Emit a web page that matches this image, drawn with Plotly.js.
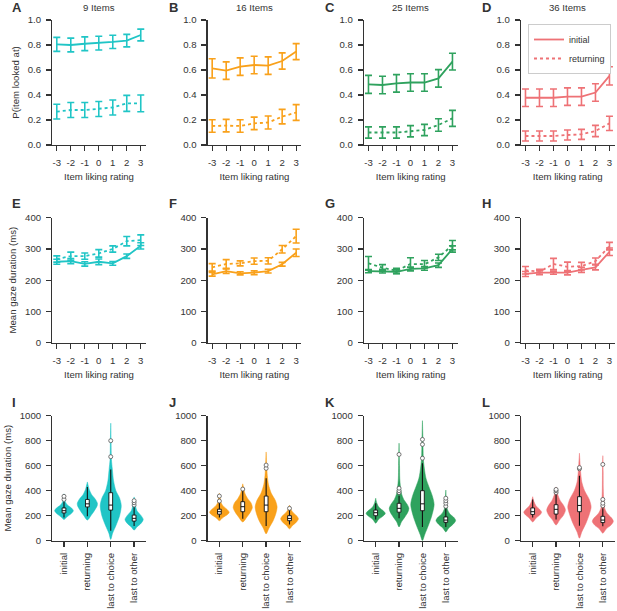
<!DOCTYPE html>
<html><head><meta charset="utf-8">
<script src="https://cdn.plot.ly/plotly-3.0.1.min.js"></script>
<style>html,body{margin:0;padding:0;background:#fff}#chart{width:617px;height:611px}</style>
</head><body><div id="chart"></div>
<script>
// ---------- data ----------
const ratings = [-3,-2,-1,0,1,2,3];
const setSizes = ['9 Items','16 Items','25 Items','36 Items'];
const panelLetters = ['A','B','C','D','E','F','G','H','I','J','K','L'];
const seriesNames = ['initial','returning'];
const categories = ['initial','returning','last to choice','last to other'];
const colors = ['#20c5c6','#f9a11b','#2fa25e','#ee7276'];

// Row 1: P(item looked at)
const pInitial = [
  [0.805,0.800,0.810,0.815,0.825,0.835,0.880],
  [0.613,0.595,0.627,0.640,0.635,0.672,0.747],
  [0.485,0.480,0.493,0.500,0.500,0.533,0.667],
  [0.378,0.378,0.378,0.387,0.387,0.420,0.553]];
const pInitialErr = [
  [0.056,0.055,0.055,0.055,0.053,0.050,0.047],
  [0.077,0.070,0.070,0.070,0.070,0.065,0.064],
  [0.072,0.070,0.070,0.070,0.070,0.070,0.067],
  [0.070,0.070,0.070,0.070,0.070,0.070,0.073]];
const pReturning = [
  [0.267,0.280,0.280,0.288,0.300,0.333,0.333],
  [0.152,0.155,0.152,0.173,0.180,0.227,0.260],
  [0.100,0.100,0.100,0.110,0.120,0.160,0.213],
  [0.072,0.072,0.072,0.080,0.085,0.112,0.173]];
const pReturningErr = [
  [0.059,0.060,0.060,0.060,0.060,0.064,0.067],
  [0.050,0.050,0.050,0.050,0.052,0.058,0.063],
  [0.045,0.045,0.045,0.045,0.045,0.050,0.064],
  [0.040,0.040,0.040,0.040,0.040,0.045,0.057]];

// Row 2: mean gaze duration (ms)
const gInitial = [
  [259,261,252,259,254,277,310],
  [219,229,222,224,229,251,288],
  [229,229,227,236,238,248,300],
  [220,224,224,224,233,241,291]];
const gInitialErr = [
  [8,8,7,9,6,7,10],
  [6,7,5,6,6,6,12],
  [5,6,6,6,6,7,10],
  [8,6,5,7,8,8,12]];
const gReturning = [
  [268,277,277,286,300,325,328],
  [241,252,254,261,262,299,341],
  [254,240,230,252,251,273,312],
  [232,227,252,243,245,261,309]];
const gReturningErr = [
  [10,13,10,12,10,15,17],
  [12,14,8,10,10,12,22],
  [22,10,8,20,12,10,15],
  [12,8,18,15,12,10,12]];

// Row 3: violin density profiles [value, half-width] per category, per panel
const violinI = [
  [[170,0],[190,0.12],[215,0.30],[240,0.40],[260,0.33],[285,0.15],[310,0.06],[340,0.03],[375,0]],
  [[165,0],[200,0.15],[240,0.30],[280,0.42],[300,0.43],[330,0.35],[370,0.18],[410,0.08],[470,0]],
  [[10,0],[60,0.08],[120,0.22],[200,0.38],[280,0.45],[340,0.38],[400,0.22],[480,0.12],[570,0.07],[650,0.03],[800,0.015],[940,0]],
  [[85,0],[110,0.12],[140,0.30],[170,0.39],[200,0.30],[240,0.12],[280,0.06],[320,0.03],[350,0]]];
const violinJ = [
  [[160,0],[185,0.15],[210,0.35],[228,0.42],[250,0.33],[280,0.15],[310,0.06],[345,0.03],[380,0]],
  [[150,0],[190,0.18],[230,0.33],[265,0.41],[300,0.36],[340,0.20],[380,0.09],[420,0.04],[455,0]],
  [[55,0],[100,0.12],[160,0.30],[220,0.42],[270,0.47],[320,0.40],[380,0.22],[450,0.10],[520,0.05],[600,0.025],[710,0]],
  [[95,0],[120,0.12],[150,0.30],[175,0.38],[200,0.30],[230,0.13],[260,0.04],[285,0]]];
const violinK = [
  [[140,0],[170,0.12],[195,0.30],[218,0.41],[240,0.32],[265,0.15],[300,0.05],[340,0]],
  [[110,0],[150,0.10],[190,0.25],[230,0.38],[260,0.42],[290,0.35],[330,0.20],[380,0.10],[430,0.06],[500,0.03],[600,0.02],[780,0]],
  [[0,0],[50,0.10],[120,0.25],[200,0.40],[290,0.50],[360,0.42],[430,0.28],[500,0.15],[580,0.08],[650,0.04],[750,0.025],[850,0.015],[960,0]],
  [[70,0],[100,0.12],[130,0.30],[160,0.42],[185,0.35],[215,0.17],[250,0.07],[300,0.03],[350,0.015],[405,0]]];
const violinL = [
  [[150,0],[180,0.14],[205,0.30],[228,0.38],[250,0.30],[280,0.14],[315,0.05],[352,0]],
  [[125,0],[165,0.15],[205,0.32],[245,0.40],[280,0.33],[320,0.18],[370,0.07],[430,0]],
  [[20,0],[70,0.10],[140,0.28],[210,0.42],[270,0.50],[330,0.42],[400,0.22],[470,0.10],[550,0.05],[620,0.025],[700,0]],
  [[60,0],[95,0.15],[125,0.35],[155,0.45],[185,0.36],[220,0.18],[260,0.08],[320,0.04],[420,0.02],[550,0.015],[680,0]]];
const violins = [violinI, violinJ, violinK, violinL];

// Row 3: box statistics per panel (categories order)
const boxQ1     = [[222,270,245,157],[212,232,232,160],[200,228,240,147],[210,213,232,145]];
const boxMedian = [[240,295,285,179],[232,272,285,178],[224,259,295,165],[232,251,282,165]];
const boxQ3     = [[262,330,384,205],[252,312,357,200],[245,299,400,190],[262,288,352,195]];
const boxLow    = [[185,195,80,117],[185,175,117,130],[170,180,110,110],[185,170,120,115]];
const boxHigh   = [[310,430,570,267],[310,400,500,250],[300,360,620,260],[330,370,520,260]];
const outliers = [
  [[330,355],[],[672,800],[285,304,320]],
  [[317,357],[413],[579,605],[259]],
  [[],[385,400,420,690],[660,770,810],[275,300,320,340]],
  [[],[385,400,410],[575,585],[280,300,330,610]]];

// ---------- layout geometry ----------
const W = 617, H = 611;
const colLeft = [52.3, 207.7, 364, 521];
const plotW = 93.5;
const rowTop = [20, 217.7, 415.7];
const plotH = 125;
const FONT = 'Liberation Sans, Arial, sans-serif';
const INK = '#333333';
const FS = 9.6;

const data = [];
const layout = {
  width: W, height: H,
  margin: {l:0, r:0, t:0, b:0},
  paper_bgcolor: '#fff', plot_bgcolor: '#fff',
  font: {family: FONT, size: FS, color: INK},
  showlegend: true,
  legend: {x: 611/W, y: 1 - 24/H, xanchor: 'right', yanchor: 'top',
           bgcolor: '#fff', bordercolor: '#cccccc', borderwidth: 1,
           font: {size: 9, color: INK}, itemwidth: 30, tracegroupgap: 0},
  annotations: []
};

function axisBase() {
  return {showline: true, linecolor: INK, linewidth: 1.3, ticks: 'outside', ticklen: 5,
          tickwidth: 1.3, tickcolor: INK, showgrid: false, zeroline: false,
          tickfont: {size: FS, color: INK, family: FONT}, ticklabelstandoff: 3, fixedrange: true};
}

for (let r = 0; r < 3; r++) {
  for (let c = 0; c < 4; c++) {
    const idx = r*4 + c + 1;
    const xk = 'xaxis' + (idx === 1 ? '' : idx);
    const yk = 'yaxis' + (idx === 1 ? '' : idx);
    const xa = axisBase(), ya = axisBase();
    xa.domain = [colLeft[c]/W, (colLeft[c]+plotW)/W];
    ya.domain = [1 - (rowTop[r]+plotH)/H, 1 - rowTop[r]/H];
    xa.anchor = 'y' + idx; ya.anchor = 'x' + idx;
    if (r < 2) {
      xa.range = [-3.32, 3.36];
      xa.tickvals = ratings; xa.ticktext = ratings.map(String);
      xa.title = {text: 'Item liking rating', font: {size: FS, color: INK}, standoff: 6};
    } else {
      xa.range = [-0.5, 3.5];
      xa.tickvals = [0,1,2,3]; xa.ticktext = categories; xa.tickangle = -90;
      xa.ticklabelstandoff = 2;
    }
    if (r === 0) { ya.range = [0, 1]; ya.tickvals = [0,0.2,0.4,0.6,0.8,1.0]; ya.tickformat = '.1f'; }
    if (r === 1) { ya.range = [0, 400]; ya.tickvals = [0,100,200,300,400]; }
    if (r === 2) { ya.range = [0, 1000]; ya.tickvals = [0,200,400,600,800,1000]; }
    if (c === 0) {
      const t = r === 0 ? 'P(item looked at)' : 'Mean gaze duration (ms)';
      ya.title = {text: t, font: {size: FS, color: INK}, standoff: 6};
    }
    layout[xk] = xa; layout[yk] = ya;

    // panel letter
    layout.annotations.push({text: '<b>' + panelLetters[idx-1] + '</b>', xref: 'paper', yref: 'paper',
      x: (10 + 156.5*c)/W, y: 1 - [7, 204, 402][r]/H, xanchor: 'left', yanchor: 'middle',
      showarrow: false, font: {size: 13, color: INK}});
    if (r === 0) {
      layout.annotations.push({text: setSizes[c], xref: 'paper', yref: 'paper',
        x: (colLeft[c] + plotW/2)/W, y: 1 - 8/H, xanchor: 'center', yanchor: 'middle',
        showarrow: false, font: {size: FS, color: INK}});
    }
  }
}

// Rows 1 and 2: line plots with error bars
for (let r = 0; r < 2; r++) {
  for (let c = 0; c < 4; c++) {
    const idx = r*4 + c + 1;
    const ini = r === 0 ? pInitial[c] : gInitial[c];
    const iniE = r === 0 ? pInitialErr[c] : gInitialErr[c];
    const ret = r === 0 ? pReturning[c] : gReturning[c];
    const retE = r === 0 ? pReturningErr[c] : gReturningErr[c];
    const isLegend = (r === 0 && c === 3);
    [[ini, iniE, 'solid', seriesNames[0]], [ret, retE, 'dot', seriesNames[1]]].forEach(([y, e, dash, name]) => {
      data.push({type: 'scatter', mode: 'lines', x: ratings, y: y, name: name,
        xaxis: 'x' + idx, yaxis: 'y' + idx, showlegend: isLegend, hoverinfo: 'skip',
        line: {color: colors[c], width: 1.8, dash: dash},
        error_y: {type: 'data', array: e, visible: true, color: colors[c], thickness: 1.6, width: 3.5}});
    });
  }
}

// Row 3: violins with boxes
for (let c = 0; c < 4; c++) {
  const idx = 8 + c + 1;
  const ax = {xaxis: 'x' + idx, yaxis: 'y' + idx};
  violins[c].forEach((prof, k) => {
    const xs = [], ys = [];
    prof.forEach(([v, w]) => { xs.push(k + w); ys.push(v); });
    for (let i = prof.length - 1; i >= 0; i--) { xs.push(k - prof[i][1]); ys.push(prof[i][0]); }
    data.push(Object.assign({type: 'scatter', mode: 'lines', x: xs, y: ys, fill: 'toself',
      fillcolor: colors[c], line: {color: colors[c], width: 0.5, shape: 'spline', smoothing: 0.8},
      showlegend: false, hoverinfo: 'skip'}, ax));
  });
  const wx = [], wy = [];
  const bx = [], by = [];
  const hw = 0.08;
  categories.forEach((_, k) => {
    wx.push(k, k, null); wy.push(boxLow[c][k], boxHigh[c][k], null);
    bx.push(k-hw, k+hw, k+hw, k-hw, k-hw, null);
    by.push(boxQ1[c][k], boxQ1[c][k], boxQ3[c][k], boxQ3[c][k], boxQ1[c][k], null);
  });
  data.push(Object.assign({type: 'scatter', mode: 'lines', x: wx, y: wy,
    line: {color: '#111', width: 1.1}, showlegend: false, hoverinfo: 'skip'}, ax));
  data.push(Object.assign({type: 'scatter', mode: 'lines', x: bx, y: by, fill: 'toself',
    fillcolor: '#ffffff', line: {color: '#111', width: 0.9}, showlegend: false, hoverinfo: 'skip'}, ax));
  const mx = [], my = [];
  categories.forEach((_, k) => { mx.push(k-hw, k+hw, null); my.push(boxMedian[c][k], boxMedian[c][k], null); });
  data.push(Object.assign({type: 'scatter', mode: 'lines', x: mx, y: my,
    line: {color: '#111', width: 1}, showlegend: false, hoverinfo: 'skip'}, ax));
  const ox = [], oy = [];
  outliers[c].forEach((arr, k) => arr.forEach(v => { ox.push(k); oy.push(v); }));
  data.push(Object.assign({type: 'scatter', mode: 'markers', x: ox, y: oy,
    marker: {size: 4, color: '#ffffff', line: {color: '#555', width: 0.8}},
    showlegend: false, hoverinfo: 'skip'}, ax));
}

Plotly.newPlot('chart', data, layout, {staticPlot: true, displayModeBar: false});
</script>
</body></html>
